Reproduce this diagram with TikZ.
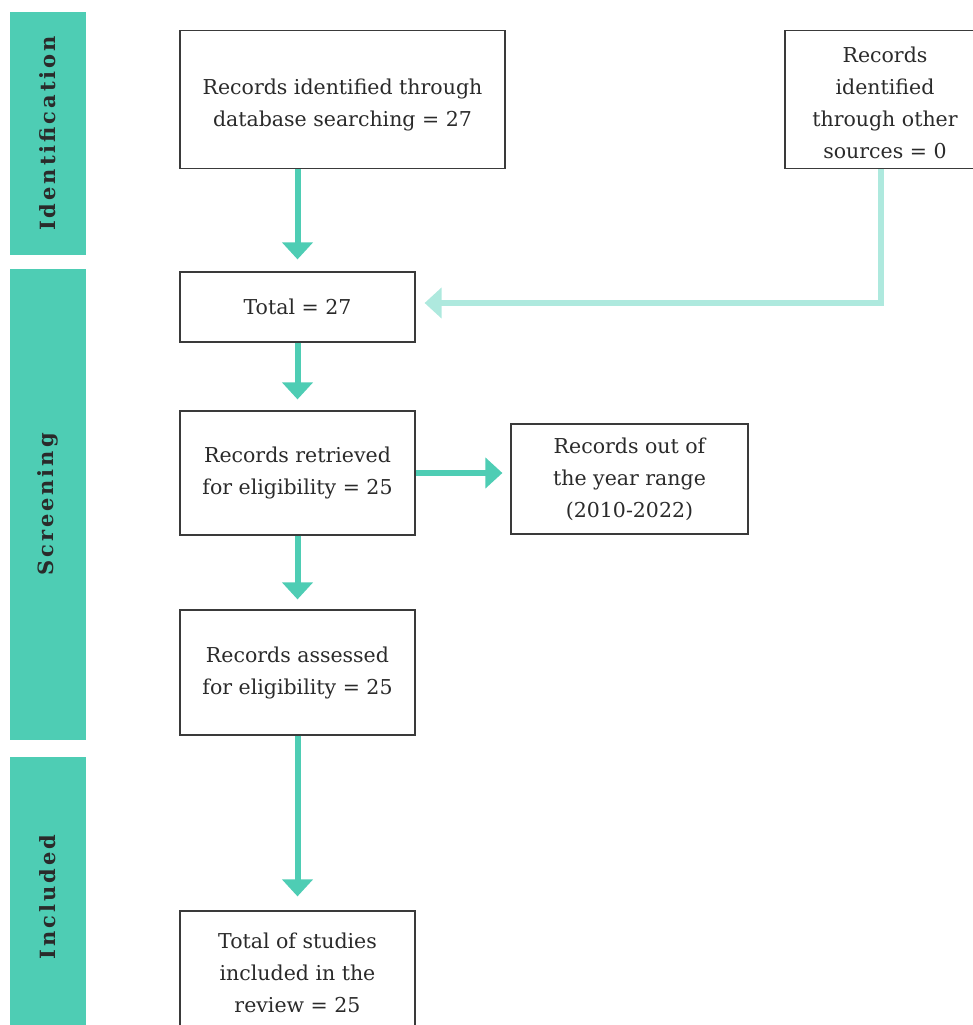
\documentclass[tikz,border=0pt]{standalone}
\usepackage{fontspec}
\setmainfont{DejaVu Serif}
\newfontfamily\sidefont[LetterSpace=14]{DejaVu Serif}
\usetikzlibrary{arrows.meta}
\definecolor{tealA}{HTML}{4ECDB4}
\definecolor{tealB}{HTML}{AEE9DE}
\definecolor{boxline}{HTML}{3A3A3A}
\definecolor{txt}{HTML}{2A2A2A}
\tikzset{
  sidebar/.style={fill=tealA, draw=none, minimum width=76pt, inner sep=0pt},
  sidelabel/.style={rotate=90, font=\sidefont\bfseries\fontsize{21}{24}\selectfont, text=txt},
  box/.style={draw=boxline, line width=1.2pt, fill=white, align=center, inner sep=0pt,
    text=txt, font=\fontsize{20.5}{32}\selectfont},
  arrA/.style={draw=tealA, line width=6pt, -{Triangle[width=30pt,length=17pt]}},
  arrB/.style={draw=tealB, line width=6pt, line join=miter, -{Triangle[width=30pt,length=17pt]}},
}
\begin{document}
\begin{tikzpicture}[x=1pt,y=-1pt]
\useasboundingbox (0,0) rectangle (972,1025);
% side bars
\node[sidebar, minimum height=243pt] (sid) at (48,133.5) {};
\node[sidelabel] (sidl) at (sid.center) {Identification};
\node[sidebar, minimum height=471pt] (ssc) at (48,504.5) {};
\node[sidelabel] (sscl) at (ssc.center) {Screening};
\node[sidebar, minimum height=280pt] (sin) at (48,897) {};
\node[sidelabel] (sinl) at (sin.center) {Included};
% boxes
\node[box, anchor=north, minimum width=325pt, text height=96pt, text depth=42pt] (db) at (342.5,30) {Records identified through\\database searching = 27};
\node[box, anchor=north, minimum width=200pt, text height=128pt, text depth=10pt] (oth) at (885,30) {Records\\identified\\through other\\sources = 0};
\node[box, minimum width=235pt, minimum height=70pt] (tot) at (297.5,307) {Total = 27};
\node[box, minimum width=235pt, minimum height=124pt] (ret) at (297.5,473) {Records retrieved\\for eligibility = 25};
\node[box, minimum width=237pt, minimum height=110pt] (out) at (629.5,479) {Records out of\\the year range\\(2010-2022)};
\node[box, minimum width=235pt, minimum height=125pt] (ass) at (297.5,672.5) {Records assessed\\for eligibility = 25};
\node[box, minimum width=235pt, minimum height=124pt] (fin) at (297.5,973) {Total of studies\\included in the\\review = 25};
% connectors
\draw[arrA, shorten >=12pt] (db.south -| tot.north) -- (tot.north);
\draw[arrA, shorten >=11pt] (tot) -- (ret);
\draw[arrA, shorten >=10pt] (ret) -- (ass);
\draw[arrA, shorten >=14pt] (ass) -- (fin);
\draw[arrA, shorten >=8pt] (ret.east) -- (out.west |- ret.east);
\coordinate (bend) at (881,303);
\draw[arrB, shorten >=9pt] (oth.south -| bend) -- (bend) -- (tot.east |- bend);
\end{tikzpicture}
\end{document}
